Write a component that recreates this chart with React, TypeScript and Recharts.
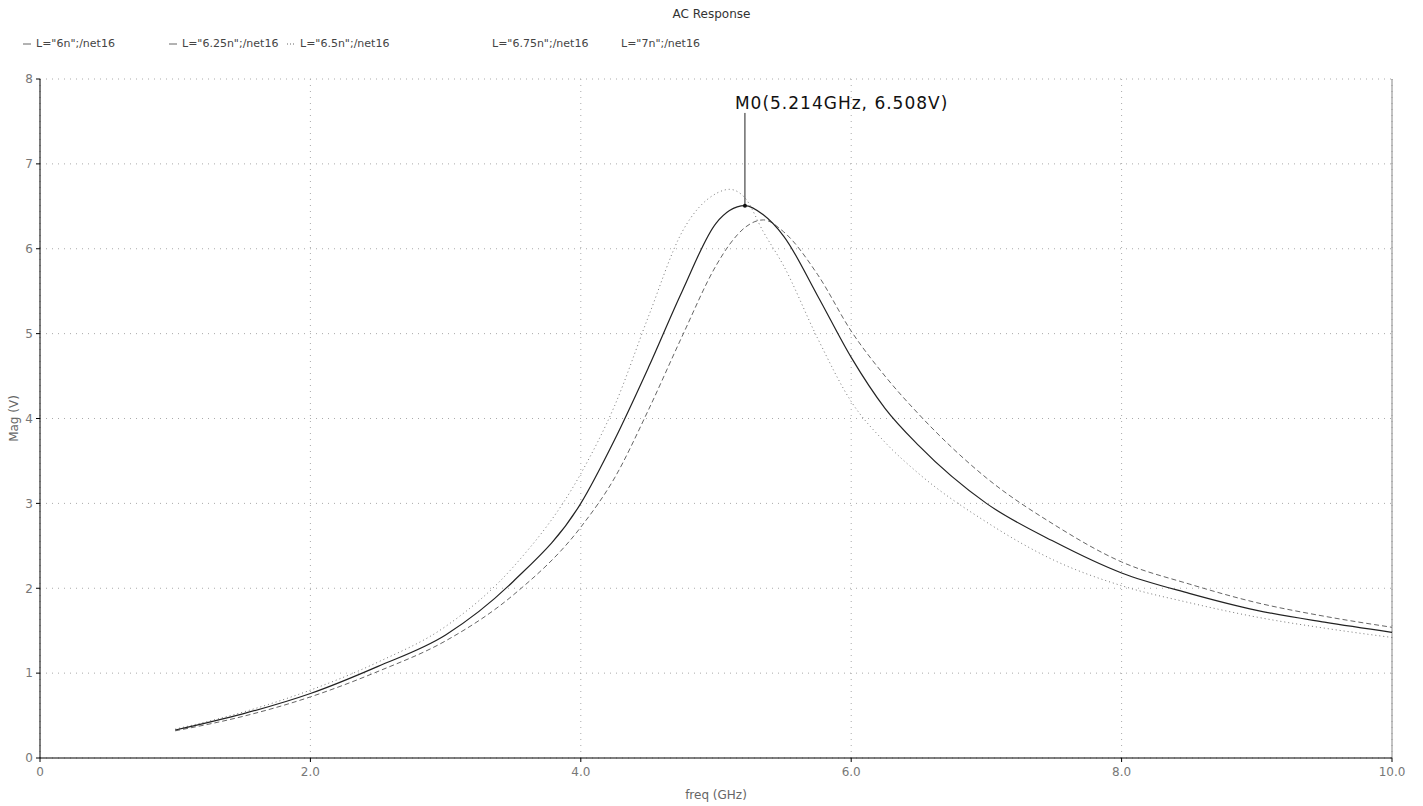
import React from "react";
import {
  LineChart,
  Line,
  XAxis,
  YAxis,
  CartesianGrid,
  ReferenceLine,
  ReferenceDot,
} from "recharts";

// frequency points (GHz)
const freq = [
  1.0, 1.5, 2.0, 2.5, 3.0, 3.5, 4.0, 4.25, 4.5, 4.75, 5.0, 5.1, 5.214, 5.35,
  5.5, 5.75, 6.0, 6.25, 6.5, 7.0, 7.5, 8.0, 8.5, 9.0, 9.5, 10.0,
];

// magnitude (V)
const magSolid = [
  0.33, 0.52, 0.76, 1.08, 1.45, 2.08, 3.0, 3.75, 4.6, 5.5, 6.3, 6.45, 6.508,
  6.4, 6.15, 5.45, 4.72, 4.12, 3.68, 3.0, 2.55, 2.18, 1.94, 1.74, 1.6, 1.48,
];
const magDashed = [
  0.32, 0.49, 0.72, 1.02, 1.38, 1.92, 2.72, 3.3, 4.1, 4.97, 5.8, 6.05, 6.25,
  6.34, 6.2, 5.7, 5.03, 4.5, 4.05, 3.3, 2.75, 2.31, 2.05, 1.83, 1.67, 1.54,
];
const magDotted = [
  0.34, 0.54, 0.8, 1.13, 1.55, 2.25, 3.35, 4.15, 5.2, 6.2, 6.65, 6.7, 6.6,
  6.2, 5.8, 4.95, 4.2, 3.72, 3.35, 2.78, 2.33, 2.03, 1.83, 1.66, 1.53, 1.42,
];

const legendNames = [
  'L="6n";/net16',
  'L="6.25n";/net16',
  'L="6.5n";/net16',
  'L="6.75n";/net16',
  'L="7n";/net16',
];
const legendSwatch = ["solid", "solid", "dotted", "none", "none"];
const legendX = [22, 168, 286, 492, 621];

const xTicks = [0, 2, 4, 6, 8, 10];
const yTicks = [0, 1, 2, 3, 4, 5, 6, 7, 8];

const marker = { x: 5.214, y: 6.508, label: "M0(5.214GHz, 6.508V)" };

const data = freq.map((f, i) => ({
  f,
  solid: magSolid[i],
  dashed: magDashed[i],
  dotted: magDotted[i],
}));

const font = "'DejaVu Sans', sans-serif";

function MarkerLabel(props: any) {
  const { viewBox } = props;
  return (
    <text
      x={viewBox.x - 10}
      y={viewBox.y + 6}
      fontSize={17}
      letterSpacing={1}
      fontFamily={font}
      fill="#111"
    >
      {marker.label}
    </text>
  );
}

export default function App() {
  return (
    <div
      style={{
        position: "absolute",
        left: 0,
        top: 0,
        width: 1423,
        height: 806,
        background: "#fff",
        fontFamily: font,
      }}
    >
      <div
        style={{
          position: "absolute",
          top: 7,
          left: 0,
          width: 1423,
          textAlign: "center",
          fontSize: 12,
          color: "#333",
        }}
      >
        AC Response
      </div>
      {legendNames.map((name, i) => (
        <div
          key={name}
          style={{
            position: "absolute",
            top: 37,
            left: legendX[i],
            fontSize: 11,
            color: "#444",
            whiteSpace: "nowrap",
            display: "flex",
            alignItems: "center",
          }}
        >
          {legendSwatch[i] !== "none" && (
            <svg width={10} height={8} style={{ marginRight: 4 }}>
              <line
                x1={1}
                y1={4}
                x2={9}
                y2={4}
                stroke="#666"
                strokeWidth={1}
                strokeDasharray={legendSwatch[i] === "dotted" ? "1 2" : undefined}
              />
            </svg>
          )}
          {name}
        </div>
      ))}

      <LineChart
        width={1423}
        height={806}
        data={data}
        margin={{ top: 79, right: 31, left: 0, bottom: 0 }}
      >
        <CartesianGrid stroke="#aaa" strokeDasharray="1 5" />
        <XAxis
          dataKey="f"
          type="number"
          domain={[0, 10]}
          ticks={xTicks}
          tickFormatter={(v: number) => (v === 0 ? "0" : v.toFixed(1))}
          height={48}
          stroke="#000"
          tickSize={4}
          tickMargin={5}
          tick={{ fill: "#777", fontSize: 12, fontFamily: font }}
          label={{
            value: "freq (GHz)",
            position: "insideBottom",
            offset: 7,
            fill: "#666",
            fontSize: 12,
            fontFamily: font,
          }}
        />
        <YAxis
          type="number"
          domain={[0, 8]}
          ticks={yTicks}
          width={40}
          stroke="#000"
          tickSize={4}
          tickMargin={3}
          tick={{ fill: "#777", fontSize: 12, fontFamily: font }}
          label={{
            value: "Mag (V)",
            angle: -90,
            position: "insideLeft",
            offset: 14,
            fill: "#666",
            fontSize: 12,
            fontFamily: font,
            style: { textAnchor: "middle" },
          }}
        />
        <ReferenceLine x={10} stroke="#888" />
        <Line
          type="monotone"
          dataKey="dotted"
          stroke="#777"
          strokeWidth={1}
          strokeDasharray="1 3"
          dot={false}
          isAnimationActive={false}
        />
        <Line
          type="monotone"
          dataKey="dashed"
          stroke="#666"
          strokeWidth={1}
          strokeDasharray="5 3"
          dot={false}
          isAnimationActive={false}
        />
        <Line
          type="monotone"
          dataKey="solid"
          stroke="#222"
          strokeWidth={1.2}
          dot={false}
          isAnimationActive={false}
        />
        <ReferenceLine
          segment={[
            { x: marker.x, y: marker.y },
            { x: marker.x, y: 7.6 },
          ]}
          stroke="#222"
        />
        <ReferenceDot x={marker.x} y={marker.y} r={2} fill="#111" stroke="none" />
        <ReferenceDot
          x={marker.x}
          y={7.72}
          r={0}
          fill="none"
          stroke="none"
          label={<MarkerLabel />}
        />
      </LineChart>
    </div>
  );
}
